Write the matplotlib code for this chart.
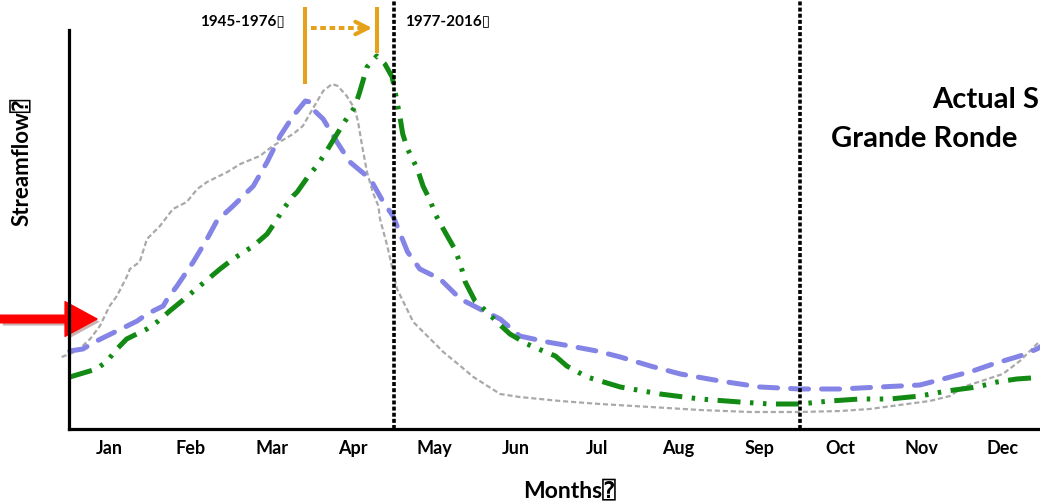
import matplotlib
matplotlib.use("Agg")
import matplotlib.pyplot as plt
import numpy as np
from matplotlib import patheffects as pe

# ---- data (x in months from Jan 1, y in relative streamflow units) ----
months = ["Jan", "Feb", "Mar", "Apr", "May", "Jun", "Jul", "Aug", "Sep", "Oct", "Nov", "Dec"]

gray_x = [-0.09, 0.10, 0.26, 0.38, 0.50, 0.59, 0.71, 0.75, 0.87, 0.96, 1.12, 1.28, 1.45, 1.58, 1.70,
          1.95, 2.11, 2.35, 2.51, 2.76, 2.88, 3.00, 3.13, 3.24, 3.31, 3.42, 3.52, 3.56, 3.61, 3.67,
          3.74, 3.81, 3.83, 3.92, 4.04, 4.24, 4.45, 4.61, 4.82, 4.98, 5.31, 5.55, 6.05, 6.54, 7.16,
          7.77, 8.39, 9.00, 9.50, 9.86, 10.23, 10.60, 10.85, 11.01, 11.50, 11.71, 11.92, 12.02]
gray_y = [72, 78, 90, 103, 123, 133, 152, 160, 167, 190, 203, 220, 227, 240, 247,
          257, 265, 273, 283, 295, 303, 320, 338, 345, 343, 333, 320, 307, 283, 257,
          237, 223, 210, 183, 140, 107, 90, 77, 63, 52, 35, 32, 28, 25, 22,
          19, 17, 17, 18, 20, 24, 28, 33, 42, 55, 68, 85, 90]

blue_x = [0.01, 0.17, 0.34, 0.59, 0.84, 0.96, 1.16, 1.21, 1.33, 1.53, 1.70, 1.82, 2.02, 2.27, 2.44,
          2.60, 2.76, 2.91, 2.97, 3.00, 3.13, 3.30, 3.46, 3.71, 3.87, 3.99, 4.04, 4.17, 4.32, 4.57,
          4.82, 5.06, 5.31, 5.55, 5.89, 6.17, 6.50, 6.79, 7.16, 7.53, 8.02, 8.51, 9.00, 9.50, 9.99,
          10.48, 10.81, 11.13, 11.38, 11.71, 11.92, 12.02]
blue_y = [78, 80, 88, 98, 108, 115, 123, 130, 143, 167, 190, 208, 223, 243, 267,
          293, 313, 328, 327, 320, 310, 287, 267, 250, 227, 213, 203, 177, 160, 150,
          130, 120, 110, 93, 87, 83, 78, 72, 63, 55, 48, 42, 40, 40, 42,
          44, 51, 58, 65, 73, 80, 85]

green_x = [0.01, 0.34, 0.47, 0.59, 0.71, 0.96, 1.10, 1.24, 1.39, 1.61, 1.86, 2.02, 2.27, 2.44, 2.54,
           2.64, 2.76, 2.81, 2.94, 3.05, 3.15, 3.30, 3.40, 3.52, 3.58, 3.67, 3.79, 3.89, 3.98, 4.04,
           4.08, 4.11, 4.17, 4.29, 4.36, 4.45, 4.51, 4.61, 4.75, 4.82, 4.88, 5.00, 5.15, 5.27, 5.43,
           5.64, 5.84, 5.99, 6.13, 6.38, 6.79, 7.28, 7.77, 8.26, 8.63, 9.00, 9.37, 9.74, 10.11,
           10.48, 10.81, 11.18, 11.43, 11.67, 12.02]
green_y = [52, 60, 68, 80, 90, 100, 108, 118, 128, 143, 160, 170, 183, 195, 207,
           220, 233, 237, 252, 263, 275, 295, 308, 322, 337, 362, 373, 365, 352, 327,
           310, 295, 280, 260, 243, 228, 215, 200, 180, 165, 147, 128, 117, 107, 95,
           85, 78, 73, 63, 52, 42, 35, 30, 27, 25, 25, 28, 30, 30,
           33, 38, 42, 47, 50, 52]

period_labels = ["1945-1976\u25af", "1977-2016\u25af"]
title_lines = ["Actual S", "Grande Ronde"]
season_bounds = [4.0, 9.0]  # May 1, Oct 1

# ---- figure ----
W, H = 1040, 502
fig = plt.figure(figsize=(W / 100, H / 100), dpi=100)
fam = ["Lato", "DejaVu Sans", "DejaVu Sans Mono"]
plt.rcParams["font.family"] = fam

ax = fig.add_axes([69 / W, (H - 430) / H, 974.4 / W, 399 / H])
ax.set_xlim(0, 12)
ax.set_ylim(0, 399)

ax.plot(gray_x, gray_y, color="#A9A9A9", lw=1.6, dashes=(2.3, 1.3), clip_on=False, zorder=3)
ax.plot(blue_x, blue_y, color="#8484E6", lw=3.6, dashes=(3.6, 2.6), clip_on=False, zorder=4,
        solid_capstyle="round", dash_capstyle="round")
ax.plot(green_x, green_y, color="#138A13", lw=3.6, dashes=(4.6, 1.9, 0.7, 1.9, 0.7, 1.9),
        clip_on=False, zorder=5)

for xb in season_bounds:
    ax.axvline(xb, ymin=0, ymax=430 / 399, color="black", lw=2.6, dashes=(1.1, 0.6),
               clip_on=False, zorder=6)

# spines
for s in ["top", "right"]:
    ax.spines[s].set_visible(False)
for s in ["left", "bottom"]:
    ax.spines[s].set_linewidth(2.3)
    ax.spines[s].set_color("black")
ax.spines["left"].set_zorder(7)

ax.set_yticks([])
ax.set_xticks(np.arange(12) + 0.5)
ax.set_xticklabels(months, fontsize=13, fontweight="bold")
ax.tick_params(axis="x", length=0, pad=7)

# orange marker lines at peaks
orange = "#E3A21A"
bx = blue_x[int(np.argmax(blue_y))]
gx = green_x[int(np.argmax(green_y))]
ax.plot([bx, bx], [345, 422], color=orange, lw=2.9, clip_on=False, solid_capstyle="butt")
ax.plot([gx, gx], [376, 422], color=orange, lw=2.9, clip_on=False, solid_capstyle="butt")
ax.plot([bx + 0.07, gx - 0.12], [401, 401], color=orange, lw=2.9, dashes=(1.4, 0.9),
        clip_on=False)
ax.annotate("", xy=(gx - 0.02, 401), xytext=(gx - 0.2, 401),
            arrowprops=dict(arrowstyle="->,head_length=0.9,head_width=0.45", color=orange, lw=2.9),
            annotation_clip=False)

# texts
fig.text(200 / W, 1 - 21 / H, period_labels[0], fontsize=11, fontweight="bold",
         ha="left", va="center", family=fam)
fig.text(405 / W, 1 - 21 / H, period_labels[1], fontsize=11, fontweight="bold",
         ha="left", va="center", family=fam)

fig.text(932 / W, 1 - 108 / H, title_lines[0], fontsize=21, fontweight="bold",
         ha="left", va="baseline")
fig.text(831 / W, 1 - 147 / H, title_lines[1], fontsize=21, fontweight="bold",
         ha="left", va="baseline")

fig.text(570 / W, 1 - 490 / H, "Months\u2370", fontsize=16.5, fontweight="bold",
         ha="center", va="center", family=fam)
fig.text(22 / W, 1 - 162 / H, "Streamflow\u2370", fontsize=16, fontweight="bold",
         ha="center", va="center", rotation=90, family=fam)

# red arrow
ax.annotate("", xy=(97, H - 320), xytext=(0, H - 320), xycoords="figure pixels",
            textcoords="figure pixels",
            arrowprops=dict(arrowstyle="simple,head_length=2.3,head_width=2.5,tail_width=0.55",
                            color="#FF0000", mutation_scale=10, shrinkA=0, shrinkB=0,
                            path_effects=[pe.SimplePatchShadow(offset=(2, -2), alpha=0.3), pe.Normal()]),
            annotation_clip=False)

fig.savefig("out.png", dpi=100)
